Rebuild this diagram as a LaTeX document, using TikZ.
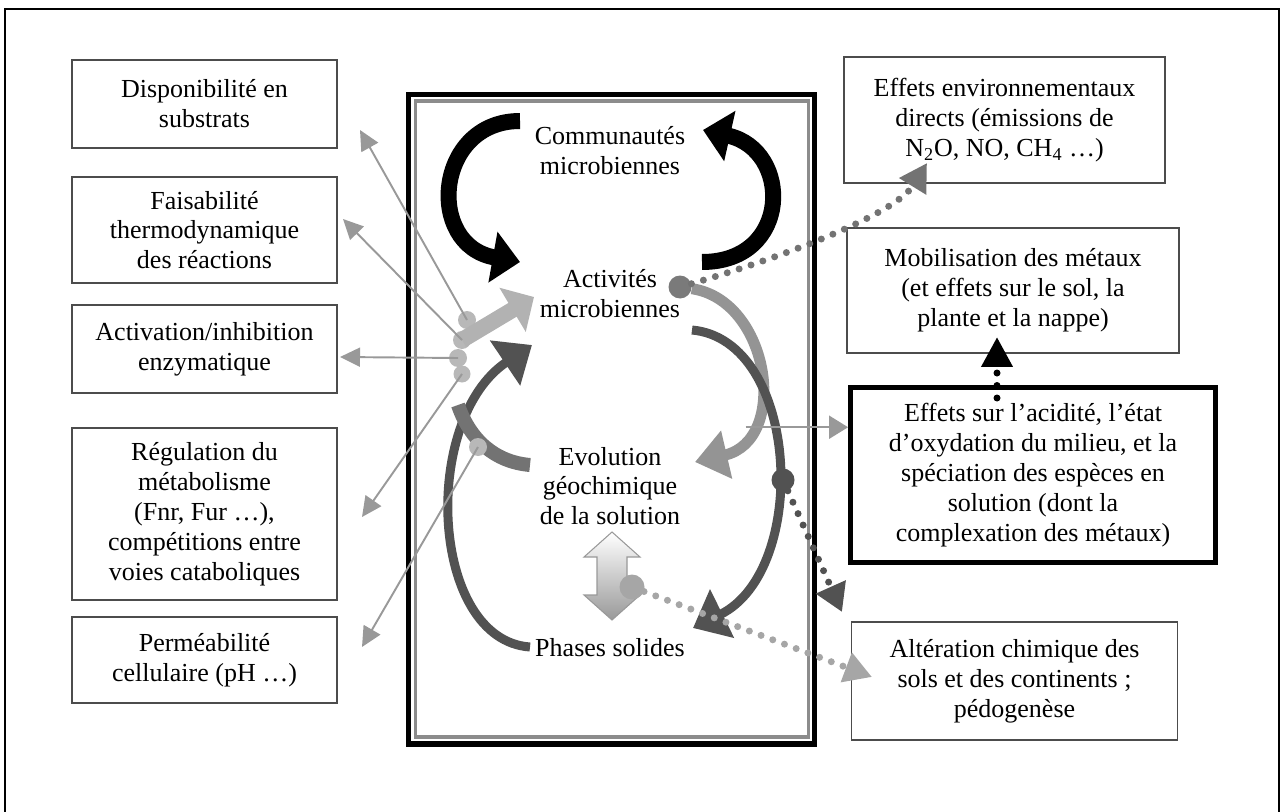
\documentclass[tikz,border=0pt]{standalone}
\usepackage{fontspec}
\setmainfont{Liberation Serif}
\usepackage{xcolor}
\usepackage{tikz}
\usetikzlibrary{arrows.meta,positioning,calc}

\tikzset{
  txt/.style={font=\fontsize{14.8}{17}\selectfont, align=center},
  sidebox/.style={txt, draw=black!70, line width=1pt, inner sep=0pt},
  leftbox/.style={sidebox, minimum width=5.3cm},
  noirarc/.style={black, line width=0.32cm, -{Triangle[length=0.55cm, width=1.0cm]}},
  foncearc/.style={black!68, line width=0.18cm, -{Triangle[length=0.65cm, width=1.05cm]}},
  moyenarc/.style={black!55, line width=0.28cm},
  clairarc/.style={black!42, line width=0.22cm, -{Triangle[length=0.65cm, width=0.95cm]}},
  clairfleche/.style={black!30, line width=0.32cm, -{Triangle[length=0.5cm, width=1.0cm]}},
  finfleche/.style={black!40, line width=1.1pt, -{Triangle[length=0.4cm, width=0.38cm]}},
  pointille/.style={line width=0.14cm, dash pattern=on 0pt off 0.25cm, line cap=round},
  pastille/.style={circle, inner sep=0pt, minimum size=#1},
  pastille/.default=0.46cm
}

\begin{document}
\begin{tikzpicture}[x=0.02cm, y=-0.02cm]
  \useasboundingbox (0,0) rectangle (1284,811);
  \draw[line width=0.8pt] (5,830) -- (5,9) -- (1279,9) -- (1279,830);

  % facteurs (gauche)
  \node[leftbox, minimum height=1.76cm] (dispo) at (204.5,104) {Disponibilité en\\substrats};
  \node[leftbox, minimum height=2.12cm] (faisab) at (204.5,230) {Faisabilité\\thermodynamique\\des réactions};
  \node[leftbox, minimum height=1.76cm] (enzym) at (204.5,349) {Activation/inhibition\\enzymatique};
  \node[leftbox, minimum height=3.44cm] (regul) at (204.5,514) {Régulation du\\métabolisme\\(Fnr, Fur …),\\compétitions entre\\voies cataboliques};
  \node[leftbox, minimum height=1.72cm] (perme) at (204.5,660) {Perméabilité\\cellulaire (pH …)};

  % effets (droite)
  \node[sidebox, minimum width=6.42cm, minimum height=2.52cm] (env) at (1004.5,120) {Effets environnementaux\\directs (émissions de\\N\textsubscript{2}O, NO, CH\textsubscript{4} …)};
  \node[sidebox, minimum width=6.64cm, minimum height=2.5cm] (mobil) at (1013,290.5) {Mobilisation des métaux\\(et effets sur le sol, la\\plante et la nappe)};
  \node[sidebox, draw=black, line width=2.8pt, minimum width=7.3cm, minimum height=3.5cm] (acid) at (1033,475) {Effets sur l'acidité, l'état\\d'oxydation du milieu, et la\\spéciation des espèces en\\solution (dont la\\complexation des métaux)};
  \node[sidebox, minimum width=6.52cm, minimum height=2.36cm] (alter) at (1014.5,681) {Altération chimique des\\sols et des continents ;\\pédogenèse};

  % cadre central
  \draw[line width=3.4pt] (408.5,94.5) rectangle (814.5,744);
  \draw[black!45, line width=2.2pt] (415.5,101) rectangle (808.5,737);

  \node[txt] (commu) at (610,151) {Communautés\\microbiennes};
  \node[txt] (activ) at (610,294) {Activités\\microbiennes};
  \node[txt] (evol) at (610,486) {Evolution\\géochimique\\de la solution};
  \node[txt] (phases) at (610,648) {Phases solides};

  % cycles
  \draw[noirarc] (520,121) .. controls (435,121) and (425,245) .. (520,262);
  \draw[noirarc] (702,262) .. controls (792,262) and (792,150) .. (703,130);
  \draw[foncearc] (530,647) .. controls (430,640) and (420,420) .. (532,345);
  \draw[moyenarc] (530,465) .. controls (495,462) and (470,440) .. (458,405);

  \node[pastille, fill=black!52] (dA) at (680,287) {};
  \node[pastille, fill=black!68] (dD) at (783,480) {};
  \draw[clairarc] (dA) .. controls (770,300) and (790,440) .. (695,462) coordinate[pos=0.75] (jr);
  \draw[foncearc] (692,330) .. controls (800,340) and (810,570) .. (693,628);

  \shade[top color=white, bottom color=black!40, draw=black!40, line width=0.6pt]
    (612,532) -- (640,557) -- (627,557) -- (627,595) -- (640,595) -- (612,620)
    -- (584,595) -- (597,595) -- (597,557) -- (584,557) -- cycle;
  \node[pastille=0.5cm, fill=black!35] (dL) at (632,587) {};

  % facteurs -> activites
  \node[pastille=0.36cm, fill=black!28] (jA) at (467,320) {};
  \node[pastille=0.36cm, fill=black!28] (jB) at (462,340) {};
  \node[pastille=0.36cm, fill=black!28] (jC) at (458,358) {};
  \node[pastille=0.34cm, fill=black!28] (jD) at (462,374) {};
  \node[pastille=0.36cm, fill=black!28] (jE) at (478,447) {};
  \draw[clairfleche] (jB.center) -- (534,297);

  \coordinate (tDispo) at (360,130);
  \coordinate (tFaisab) at (343,219);
  \coordinate (tEnzym) at (340,357);
  \coordinate (tRegul) at (362,517);
  \coordinate (tPerme) at (362,647);
  \draw[finfleche] (jA.center) -- (tDispo);
  \draw[finfleche] (jB.center) -- (tFaisab);
  \draw[finfleche] (jC.center) -- (tEnzym);
  \draw[finfleche] (jD.center) -- (tRegul);
  \draw[finfleche] (jE.center) -- (tPerme);
  \draw[finfleche, -{Triangle[length=0.38cm, width=0.46cm]}] (jr) -- (acid.west |- jr);

  % effets
  \coordinate (tEnv) at (927,163);
  \coordinate (tAlterA) at (842,612);
  \coordinate (tAlterB) at (872,677);
  \coordinate (mDepart) at (997,398);
  \coordinate (tMobil) at (997,337);
  \draw[pointille, black!55, -{Triangle[length=0.55cm, width=0.6cm]}] (dA) .. controls (780,258) and (895,215) .. (tEnv);
  \draw[pointille, black!68, -{Triangle[length=0.55cm, width=0.62cm]}] (dD) -- (tAlterA);
  \draw[pointille, black!35, -{Triangle[length=0.55cm, width=0.6cm]}] (dL) -- (tAlterB);
  \draw[pointille, black, -{Triangle[length=0.6cm, width=0.6cm]}] (mDepart) -- (tMobil);
\end{tikzpicture}
\end{document}
